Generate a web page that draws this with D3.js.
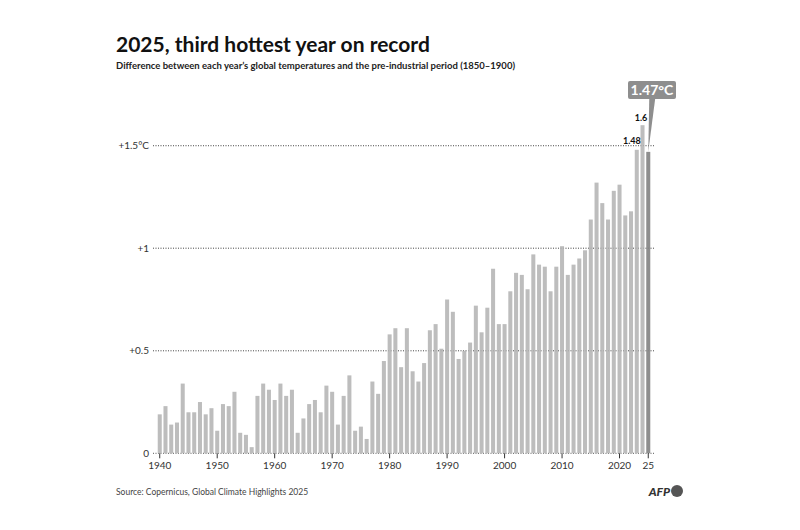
<!DOCTYPE html>
<html>
<head>
<meta charset="utf-8">
<script src="https://cdn.jsdelivr.net/npm/d3@7"></script>
<style>
  body { margin: 0; background: #fff; }
  svg { display: block; font-family: "Lato", "Open Sans", sans-serif; }
</style>
</head>
<body>
<svg id="chart" width="800" height="530"></svg>
<script>
// anomaly vs 1850-1900, degrees C, one value per year from 1940
var firstYear = 1940;
var anomalies = [
  0.19, 0.23, 0.14, 0.15, 0.34, 0.20, 0.20, 0.25, 0.19, 0.22,   // 1940s
  0.11, 0.24, 0.23, 0.30, 0.10, 0.09, 0.03, 0.28, 0.34, 0.31,   // 1950s
  0.26, 0.34, 0.28, 0.31, 0.10, 0.17, 0.24, 0.26, 0.20, 0.33,   // 1960s
  0.30, 0.14, 0.28, 0.38, 0.11, 0.13, 0.07, 0.35, 0.29, 0.45,   // 1970s
  0.58, 0.61, 0.42, 0.61, 0.40, 0.35, 0.44, 0.60, 0.63, 0.51,   // 1980s
  0.75, 0.69, 0.46, 0.50, 0.54, 0.72, 0.59, 0.71, 0.90, 0.63,   // 1990s
  0.63, 0.79, 0.88, 0.87, 0.80, 0.97, 0.92, 0.91, 0.79, 0.91,   // 2000s
  1.01, 0.87, 0.92, 0.95, 0.99, 1.14, 1.32, 1.22, 1.14, 1.28,   // 2010s
  1.31, 1.16, 1.18, 1.48, 1.60, 1.47                            // 2020s
];
var years = anomalies.map(function(v, i) { return firstYear + i; });

var yTicks = [0, 0.5, 1, 1.5];
var yTickLabels = ["0", "+0.5", "+1", "+1.5°C"];
var xTicks = [1940, 1950, 1960, 1970, 1980, 1990, 2000, 2010, 2020, 2025];
var xTickLabels = ["1940", "1950", "1960", "1970", "1980", "1990", "2000", "2010", "2020", "25"];

var labelled = [
  { year: 2023, text: "1.48" },
  { year: 2024, text: "1.6" }
];
var highlightYear = 2025;
var highlightText = "1.47°C";

var title = "2025, third hottest year on record";
var subtitle = "Difference between each year\u2019s global temperatures and the pre-industrial period (1850\u20131900)";
var source = "Source: Copernicus, Global Climate Highlights 2025";

var svg = d3.select("#chart");

var x = d3.scaleBand()
    .domain(years)
    .range([156, 652])
    .paddingInner(0.3)
    .paddingOuter(0.3);

var y = d3.scaleLinear()
    .domain([0, 1.5])
    .range([453.3, 145.7]);

// title block
svg.append("text")
    .attr("x", 116).attr("y", 52)
    .attr("fill", "#111")
    .style("font-size", "21px")
    .style("font-weight", "bold")
    .text(title);
svg.append("text")
    .attr("x", 116).attr("y", 69)
    .attr("fill", "#222")
    .style("font-size", "9.5px")
    .style("font-weight", "bold")
    .text(subtitle);

// grid
var grid = svg.append("g");
grid.selectAll("line")
    .data(yTicks)
    .enter().append("line")
    .attr("x1", 153).attr("x2", 655)
    .attr("y1", function(d) { return y(d); })
    .attr("y2", function(d) { return y(d); })
    .attr("stroke", "#444")
    .attr("stroke-width", 0.9)
    .attr("stroke-dasharray", "1,1.5");

svg.append("g").selectAll("text")
    .data(yTicks)
    .enter().append("text")
    .attr("x", 149)
    .attr("y", function(d) { return y(d) + 3.5; })
    .attr("text-anchor", "end")
    .attr("fill", "#333")
    .style("font-size", "10px")
    .text(function(d, i) { return yTickLabels[i]; });

// bars
svg.append("g").selectAll("rect")
    .data(anomalies)
    .enter().append("rect")
    .attr("x", function(d, i) { return x(years[i]); })
    .attr("width", x.bandwidth())
    .attr("y", function(d) { return y(d); })
    .attr("height", function(d) { return y(0) - y(d); })
    .attr("fill", function(d, i) { return years[i] == highlightYear ? "#8e8e8e" : "#bdbdbd"; });

// faint grid over the bars
svg.append("g").selectAll("line")
    .data(yTicks.slice(1))
    .enter().append("line")
    .attr("x1", 153).attr("x2", 655)
    .attr("y1", function(d) { return y(d); })
    .attr("y2", function(d) { return y(d); })
    .attr("stroke", "#666")
    .attr("stroke-opacity", 0.3)
    .attr("stroke-width", 0.9)
    .attr("stroke-dasharray", "1,1.5");

// x axis
var xAxis = d3.axisBottom(x)
    .tickValues(xTicks)
    .tickSize(5)
    .tickPadding(4)
    .tickFormat(function(d) { return xTickLabels[xTicks.indexOf(d)]; });

var gx = svg.append("g")
    .attr("transform", "translate(0," + y(0) + ")")
    .call(xAxis);
gx.select(".domain").remove();
gx.selectAll(".tick line").attr("stroke", "#333");
gx.selectAll(".tick text")
    .attr("fill", "#333")
    .style("font-size", "10px")
    .style("font-family", "Lato, sans-serif");

// value labels
svg.append("g").selectAll("text")
    .data(labelled)
    .enter().append("text")
    .attr("x", function(d) { return d.year == 2024 ? x(d.year) + x.bandwidth() / 2 - 1.5 : x(d.year) + x.bandwidth() + 2; })
    .attr("y", function(d) {
        var v = anomalies[years.indexOf(d.year)];
        return y(v) - (d.year == 2024 ? 4 : 6);
    })
    .attr("text-anchor", function(d) { return d.year == 2024 ? "middle" : "end"; })
    .attr("fill", "#111")
    .style("font-size", "9px")
    .style("font-weight", "bold")
    .text(function(d) { return d.text; });

// callout for 2025
var hv = anomalies[years.indexOf(highlightYear)];
var hx = x(highlightYear) + x.bandwidth() / 2;
var boxX = 628, boxY = 81, boxW = 48, boxH = 18;
svg.append("path")
    .attr("d", "M" + (hx + 1) + "," + (boxY + boxH - 1) +
               " L" + (hx + 7) + "," + (boxY + boxH - 1) +
               " L" + hx + "," + y(hv) + " Z")
    .attr("fill", "#8e8e8e");
svg.append("rect")
    .attr("x", boxX).attr("y", boxY)
    .attr("width", boxW).attr("height", boxH)
    .attr("rx", 2)
    .attr("fill", "#8e8e8e");
svg.append("text")
    .attr("x", boxX + boxW / 2).attr("y", boxY + 14)
    .attr("text-anchor", "middle")
    .attr("fill", "#fff")
    .style("font-size", "14px")
    .style("font-weight", "bold")
    .text(highlightText);

// footer
svg.append("text")
    .attr("x", 116).attr("y", 495)
    .attr("fill", "#444")
    .style("font-size", "8.5px")
    .text(source);
svg.append("text")
    .attr("x", 670).attr("y", 496)
    .attr("text-anchor", "end")
    .attr("fill", "#333")
    .style("font-size", "12px")
    .style("font-weight", "900")
    .style("font-style", "italic")
    .text("AFP");
svg.append("circle")
    .attr("cx", 677).attr("cy", 491)
    .attr("r", 6)
    .attr("fill", "#555");
</script>
</body>
</html>
